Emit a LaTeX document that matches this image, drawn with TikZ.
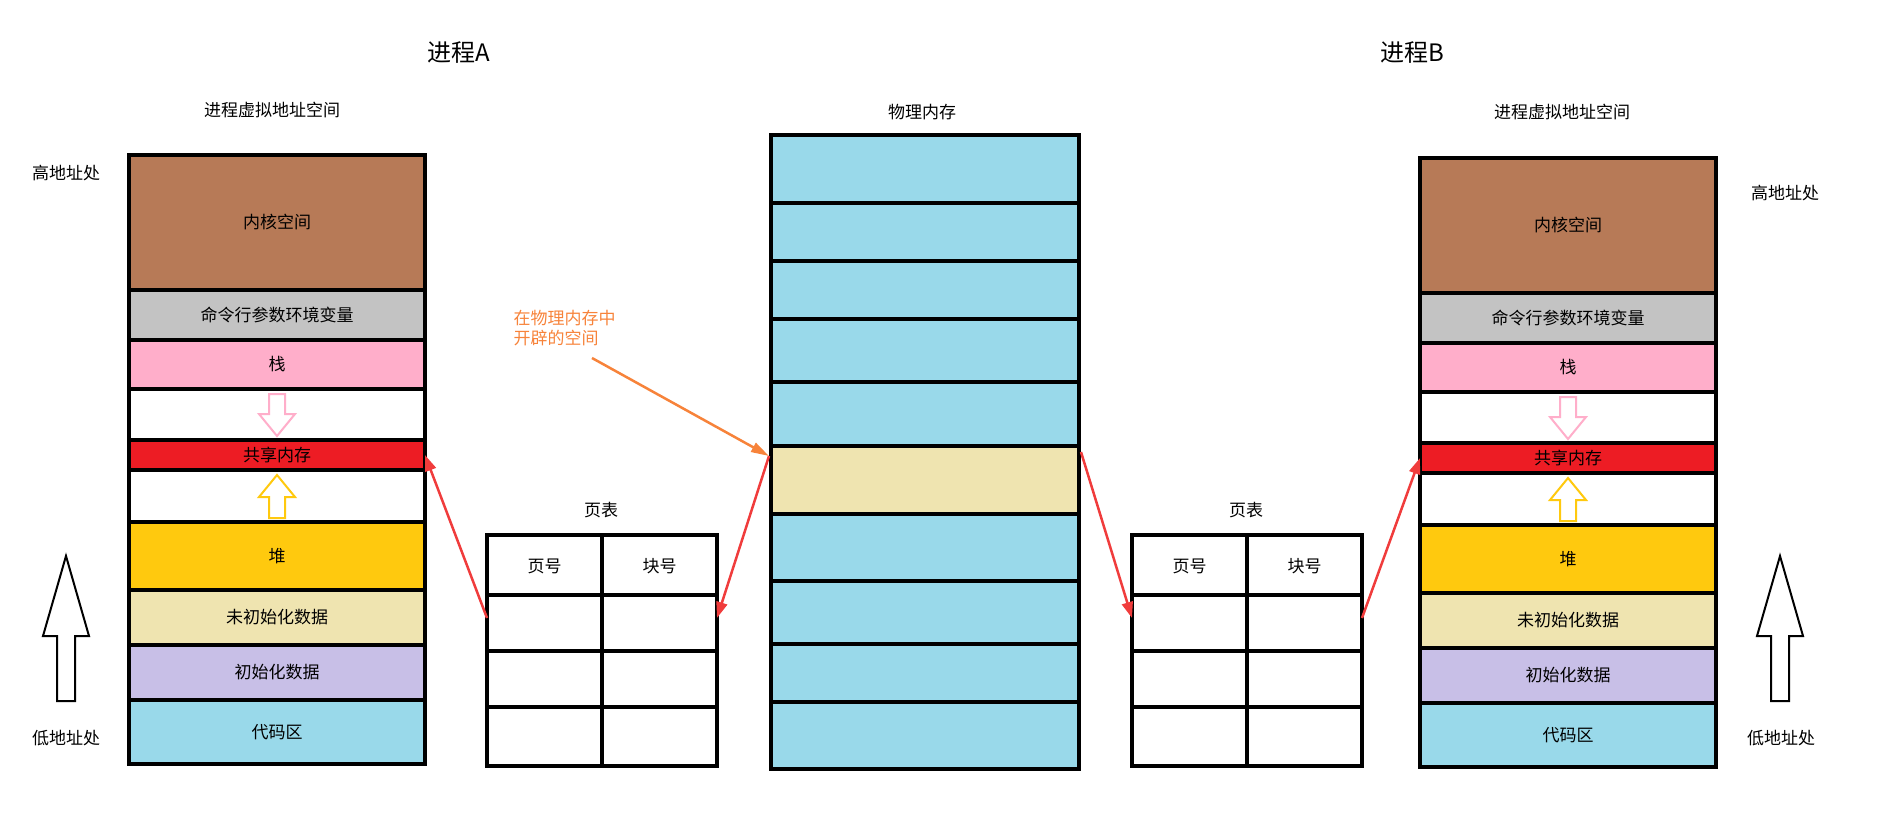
\documentclass[tikz,border=0pt]{standalone}
\usepackage{fontspec}
\setmainfont{Noto Sans CJK SC}
\usetikzlibrary{arrows.meta}
\definecolor{kernel}{HTML}{B77A57}
\definecolor{argsgray}{HTML}{C3C3C3}
\definecolor{stackpink}{HTML}{FFAECA}
\definecolor{shmred}{HTML}{ED1C24}
\definecolor{heapyellow}{HTML}{FFC90E}
\definecolor{bssbeige}{HTML}{EFE4B0}
\definecolor{datalilac}{HTML}{C8BFE7}
\definecolor{codecyan}{HTML}{99D9EA}
\definecolor{noteorange}{HTML}{F7833A}
\definecolor{arrowred}{HTML}{F03C3C}
\begin{document}
\begin{tikzpicture}[x=1pt,y=-1pt,font=\fontsize{17}{20}\selectfont,
  cell/.style={draw=black,line width=3.5pt},
  bigarrow/.style={draw=black,line width=2pt,fill=white},
  maparrow/.style={arrowred,line width=2.5pt,-{Triangle[length=16pt,width=11pt]}}]
  \useasboundingbox (0,0) rectangle (1895,824);
  % titles
  \node (titleA) at (459,53) {\fontsize{24}{28}\selectfont 进程A};
  \node (titleB) at (1412,53) {\fontsize{24}{28}\selectfont 进程B};
  \node (vaA) at (272,110) {进程虚拟地址空间};
  \node (vaB) at (1562,112) {进程虚拟地址空间};
  \node (phys) at (922,112) {物理内存};
  \node (hiA) at (66,173) {高地址处};
  \node (loA) at (66,738) {低地址处};
  \node (hiB) at (1785,193) {高地址处};
  \node (loB) at (1781,738) {低地址处};
  \node (ptA) at (601,510) {页表};
  \node (ptB) at (1246,510) {页表};
  \node[noteorange,align=left,anchor=west] (note) at (510,328) {在物理内存中\\开辟的空间};

  % virtual address spaces
  \foreach \s/\xl/\dy in {A/129/0,B/1420/3}{
    \foreach \t/\b/\c/\txt [count=\k] in {155/290/kernel/内核空间, 290/340/argsgray/命令行参数环境变量,
        340/389/stackpink/栈, 389/440/white/{}, 440/470/shmred/共享内存, 470/522/white/{},
        522/590/heapyellow/堆, 590/645/bssbeige/未初始化数据, 645/700/datalilac/初始化数据,
        700/764/codecyan/代码区}{
      \draw[cell,fill=\c] (\xl,\t+\dy) rectangle (\xl+296,\b+\dy);
      \node (\s-\k) at (\xl+148,{(\t+\b)/2+\dy}) {\txt};
    }
    \coordinate (\s-shmL) at (\xl,455+\dy);
    \coordinate (\s-shmR) at (\xl+296,455+\dy);
    % growth arrows
    \draw[stackpink,line width=2pt,fill=white] (\xl+140,394+\dy) -- (\xl+156,394+\dy) -- (\xl+156,414+\dy)
      -- (\xl+166,414+\dy) -- (\xl+148,436+\dy) -- (\xl+130,414+\dy) -- (\xl+140,414+\dy) -- cycle;
    \draw[heapyellow,line width=2pt,fill=white] (\xl+140,518+\dy) -- (\xl+156,518+\dy) -- (\xl+156,497+\dy)
      -- (\xl+166,497+\dy) -- (\xl+148,475+\dy) -- (\xl+130,497+\dy) -- (\xl+140,497+\dy) -- cycle;
  }
  % address direction arrows
  \foreach \ax in {66,1780}{
    \draw[bigarrow] (\ax-9,701) -- (\ax+9,701) -- (\ax+9,636) -- (\ax+23,636) -- (\ax,556)
      -- (\ax-23,636) -- (\ax-9,636) -- cycle;
  }

  % physical memory
  \foreach \t/\b/\c [count=\k] in {135/203/codecyan, 203/261/codecyan, 261/319/codecyan, 319/382/codecyan,
      382/446/codecyan, 446/514/bssbeige, 514/581/codecyan, 581/644/codecyan, 644/702/codecyan, 702/769/codecyan}{
    \draw[cell,fill=\c] (771,\t) rectangle (1079,\b);
    \coordinate (M-\k) at (925,{(\t+\b)/2});
  }
  \coordinate (M-shmL) at (769,456);
  \coordinate (M-shmR) at (1081,452);

  % page tables
  \foreach \s/\xl/\xm/\xr in {A/487/602/717,B/1132/1247/1362}{
    \foreach \t/\b in {535/595,595/651,651/707,707/766}{
      \draw[cell] (\xl,\t) rectangle (\xm,\b);
      \draw[cell] (\xm,\t) rectangle (\xr,\b);
    }
    \node (\s-pno) at ({(\xl+\xm)/2},566) {页号};
    \node (\s-bno) at ({(\xm+\xr)/2},566) {块号};
    \coordinate (\s-ptL) at (\xl,618);
    \coordinate (\s-ptR) at (\xr,618);
  }

  % mappings
  \draw[maparrow] (A-ptL) -- (A-shmR);
  \draw[maparrow] (M-shmL) -- (A-ptR);
  \draw[maparrow] (M-shmR) -- (B-ptL);
  \draw[maparrow] (B-ptR) -- (B-shmL);
  \draw[noteorange,line width=2.5pt,-{Triangle[length=18pt,width=10pt]}] (592,358) -- (M-shmL);
\end{tikzpicture}
\end{document}
